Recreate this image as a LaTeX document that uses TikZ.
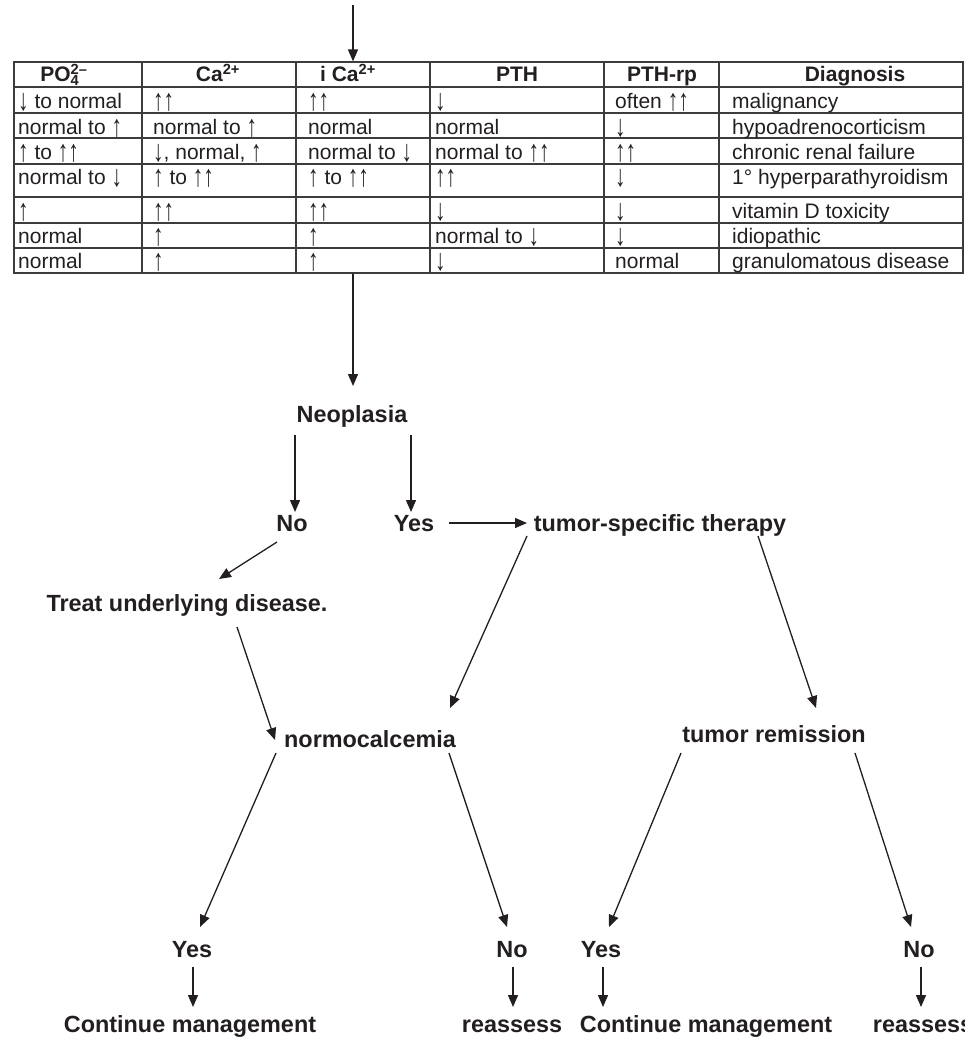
\documentclass[tikz,border=0pt]{standalone}
\usepackage{fontspec}
\usepackage{graphicx}
\setmainfont{Liberation Sans}
\usetikzlibrary{arrows.meta,calc}
\definecolor{ink}{HTML}{231F20}
\definecolor{rulec}{HTML}{3C3C3C}
\newcommand\ua{\raisebox{-2pt}{\scalebox{1}[1.45]{↑}}}
\newcommand\da{\raisebox{-2pt}{\scalebox{1}[1.45]{↓}}}
\newcommand\trow[8]{%
  \node[cell] (r#1a) at (18,#2) {#3};
  \node[cell] (r#1b) at (153,#2) {#4};
  \node[cell] (r#1c) at (308,#2) {#5};
  \node[cell] (r#1d) at (435,#2) {#6};
  \node[cell] (r#1e) at (615,#2) {#7};
  \node[cell] (r#1f) at (732,#2) {#8};
}
\begin{document}
\begin{tikzpicture}[x=1pt,y=-1pt,
  arr/.style={draw=ink,line width=1.3pt,-{Triangle[length=12pt,width=10pt]}},
  lbl/.style={anchor=base,inner sep=0pt,text=ink,font=\fontsize{23.4}{28}\selectfont\bfseries},
  cell/.style={anchor=base west,inner sep=0pt,text=ink,font=\fontsize{21}{25}\selectfont},
  head/.style={anchor=base,inner sep=0pt,text=ink,font=\fontsize{21}{25}\selectfont\bfseries},
  gridl/.style={draw=rulec,line width=1.2pt}]
\useasboundingbox (0,0) rectangle (964,1040);
\clip (0,0) rectangle (964,1040);
\fill[white] (0,0) rectangle (964,1040);

% table frame
\node[draw=rulec,line width=1.2pt,minimum width=949pt,minimum height=211pt,inner sep=0pt] (tbl) at (488.5,167.5) {};
\foreach \yy in {87,113,138,164,197,223,248} \draw[gridl] (14,\yy) -- (963,\yy);
\foreach \xx in {142,296,430,604,719} \draw[gridl] (\xx,62) -- (\xx,273);
\draw[draw=rulec,line width=2pt] (14,273) -- (963,273);

% headers
\node[head] (h1) at (64,82) {PO\rlap{\textsubscript{4}}\textsuperscript{2–}};
\node[head] (h2) at (218,82) {Ca\textsuperscript{2+}};
\node[head] (h3) at (348,82) {i Ca\textsuperscript{2+}};
\node[head] (h4) at (517,82) {PTH};
\node[head] (h5) at (662,82) {PTH-rp};
\node[head] (h6) at (855,82) {Diagnosis};

% rows
\trow{1}{109}{\da{} to normal}{\ua\ua}{\ua\ua}{\da}{often \ua\ua}{malignancy}
\trow{2}{134.5}{normal to \ua}{normal to \ua}{normal}{normal}{\da}{hypoadrenocorticism}
\trow{3}{160}{\ua{} to \ua\ua}{\da, normal, \ua}{normal to \da}{normal to \ua\ua}{\ua\ua}{chronic renal failure}
\trow{4}{185}{normal to \da}{\ua{} to \ua\ua}{\ua{} to \ua\ua}{\ua\ua}{\da}{1° hyperparathyroidism}
\trow{5}{219}{\ua}{\ua\ua}{\ua\ua}{\da}{\da}{vitamin D toxicity}
\trow{6}{244}{normal}{\ua}{\ua}{normal to \da}{\da}{idiopathic}
\trow{7}{269}{normal}{\ua}{\ua}{\da}{normal}{granulomatous disease}

% flow labels
\node[lbl] (neo) at (352,422) {Neoplasia};
\node[lbl] (no1) at (292,531) {No};
\node[lbl] (yes1) at (414,531) {Yes};
\node[lbl] (tsp) at (660,531) {tumor-specific therapy};
\node[lbl] (treat) at (187,611) {Treat underlying disease.};
\node[lbl] (normo) at (370,747) {normocalcemia};
\node[lbl] (trem) at (774,742) {tumor remission};
\node[lbl] (yes2) at (192,957) {Yes};
\node[lbl] (no2) at (512,957) {No};
\node[lbl] (yes3) at (601,957) {Yes};
\node[lbl] (no3) at (919,957) {No};
\node[lbl] (cont1) at (190,1032) {Continue management};
\node[lbl] (reas1) at (512,1032) {reassess};
\node[lbl] (cont2) at (706,1032) {Continue management};
\node[lbl] (reas2) at (923,1032) {reassess};

% connectors
\coordinate (src) at (353,5);
\draw[arr] (src) -- (src |- tbl.north);
\draw[arr] (src |- tbl.south) -- ($(neo.base)+(1,-36)$);
\draw[arr] ($(neo.base)+(-57,13)$) -- ($(no1.base)+(3,-19)$);
\draw[arr] ($(neo.base)+(59,13)$) -- ($(yes1.base)+(-3,-19)$);
\draw[arr] ($(yes1.base)+(35,-8)$) -- ($(tsp.base)+(-133,-8)$);
\draw[arr] ($(no1.base)+(-15,11)$) -- ($(treat.base)+(32,-32)$);
\draw[arr] ($(treat.base)+(50,16)$) -- ($(normo.base)+(-95,-7)$);
\draw[arr] ($(tsp.base)+(-133,5)$) -- ($(normo.base)+(80,-39)$);
\draw[arr] ($(tsp.base)+(98,5)$) -- ($(trem.base)+(42,-34)$);
\draw[arr] ($(normo.base)+(-94,6)$) -- ($(yes2.base)+(8,-30)$);
\draw[arr] ($(normo.base)+(79,6)$) -- ($(no2.base)+(-5,-30)$);
\draw[arr] ($(trem.base)+(-93,11)$) -- ($(yes3.base)+(8,-30)$);
\draw[arr] ($(trem.base)+(81,11)$) -- ($(no3.base)+(-8,-30)$);
\draw[arr] ($(yes2.base)+(1,10)$) -- ($(cont1.base)+(3,-25)$);
\draw[arr] ($(no2.base)+(1,10)$) -- ($(reas1.base)+(1,-25)$);
\draw[arr] ($(yes3.base)+(2,10)$) -- ($(cont2.base)+(-103,-25)$);
\draw[arr] ($(no3.base)+(2,10)$) -- ($(reas2.base)+(-2,-25)$);
\end{tikzpicture}
\end{document}
